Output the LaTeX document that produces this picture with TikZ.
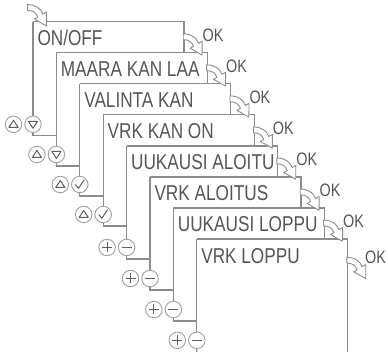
\documentclass[tikz,border=0pt]{standalone}
\usepackage{fontspec}
\newfontfamily\lcdfont[FakeStretch=0.8]{Liberation Sans}
\definecolor{linegray}{RGB}{140,140,140}
\definecolor{textgray}{RGB}{85,85,85}
\definecolor{btngray}{RGB}{160,160,160}
\definecolor{symgray}{RGB}{95,95,95}
\tikzset{
  screenline/.style={draw=linegray, line width=1.3pt},
  wire/.style={draw=linegray, line width=1.3pt},
  btn/.style={circle, draw=btngray, line width=0.9pt, minimum size=16.5pt, inner sep=0pt, fill=white},
  sym/.style={draw=symgray, line width=1pt, line join=round},
  lcd/.style={anchor=base west, inner sep=0pt, text=textgray, font=\lcdfont\fontsize{21.5}{21.5}\selectfont},
  oklabel/.style={anchor=base west, inner sep=0pt, text=textgray, font=\lcdfont\fontsize{18}{18}\selectfont},
  okarrow/.style={draw=linegray, line width=0.9pt, fill=white, line join=round},
  pics/okarr/.style={code={
    \draw[okarrow, scale=1.08] (0,-2.7) .. controls (8,-2.7) and (12.5,1.3) .. (14.2,6.1) -- (17.6,4.2) -- (17.5,17) -- (6.4,10.7) -- (9.6,8.9) .. controls (8,4.7) and (5,2.7) .. (0,2.7) -- cycle;
  }},
}
\newcommand\btnsym[2]{%
  \begin{scope}[shift={(#2)}]
  \ifcase#1
    \draw[sym] (-4.6,3) -- (4.6,3) -- (0,-4) -- cycle;
  \or
    \draw[sym] (-4.6,-3) -- (4.6,-3) -- (0,4) -- cycle;
  \or
    \draw[sym] (-4.4,0) -- (-1.3,3.8) -- (4.4,-4.8);
  \or
    \draw[sym] (-5,0) -- (5,0) (0,-5) -- (0,5);
  \or
    \draw[sym] (-5,0) -- (5,0);
  \fi
  \end{scope}}
\begin{document}
\begin{tikzpicture}[x=1pt,y=-1pt]
\useasboundingbox (0,0) rectangle (388,352);
% screens
\foreach \k/\B/\txt/\ls/\rs in {
  0/124.3/{ON/OFF}/0/1,
  1/154.5/{MAARA KAN LAA}/0/1,
  2/184.5/{VALINTA KAN}/0/2,
  3/214.5/{VRK KAN ON}/0/2,
  4/247.5/{UUKAUSI ALOITU}/3/4,
  5/278.5/{VRK ALOITUS}/3/4,
  6/309.5/{UUKAUSI LOPPU}/3/4,
  7/340.3/{VRK LOPPU}/3/4}
{
  \pgfmathsetmacro\L{33+23.4*\k}
  \pgfmathsetmacro\T{21.7+31.05*\k}
  \pgfmathsetmacro\R{\L+151}
  \pgfmathsetmacro\Rb{\k==7 ? 353 : 21.7+31.05*(\k+1)}
  \coordinate (tl\k) at (\L,\T);
  \coordinate (tr\k) at (\R,\T);
  \coordinate (br\k) at (\R,\Rb);
  \draw[screenline] (tl\k) -- (tr\k) -- (br\k);
  \node[lcd] (txt\k) at (\L+4.3,\T+24) {\txt};
  \node[btn] (rb\k) at (\L,\B) {};
  \node[btn] (lb\k) at (\L-19.5,\B) {};
  \btnsym{\ls}{lb\k}
  \btnsym{\rs}{rb\k}
  \draw[wire] (tl\k) -- (rb\k.north);
}
% connectors between button pairs and next screens
\foreach \k/\B in {0/124.3,1/154.5,2/184.5,3/214.5,4/247.5,5/278.5,6/309.5}
{
  \pgfmathsetmacro\Ln{33+23.4*(\k+1)}
  \coordinate (j\k) at (\Ln,\B+11.5);
  \draw[wire] (rb\k.south) |- (j\k);
}
\coordinate (end7) at (196.8,353);
\draw[wire] (rb7.south) -- (end7);
% arrows and OK labels
\pic at (27.5,7.5) {okarr};
\foreach \k in {0,...,6}
{
  \pgfmathsetmacro\R{33+23.4*\k+151}
  \pgfmathsetmacro\T{21.7+31.05*\k}
  \pic at (\R-0.8,\T+15) {okarr};
  \node[oklabel] (ok\k) at (\R+18.5,\T+19.5) {OK};
}
\pic at (346.8,260.2) {okarr};
\node[oklabel] (ok7) at (365,263.5) {OK};
\end{tikzpicture}
\end{document}
